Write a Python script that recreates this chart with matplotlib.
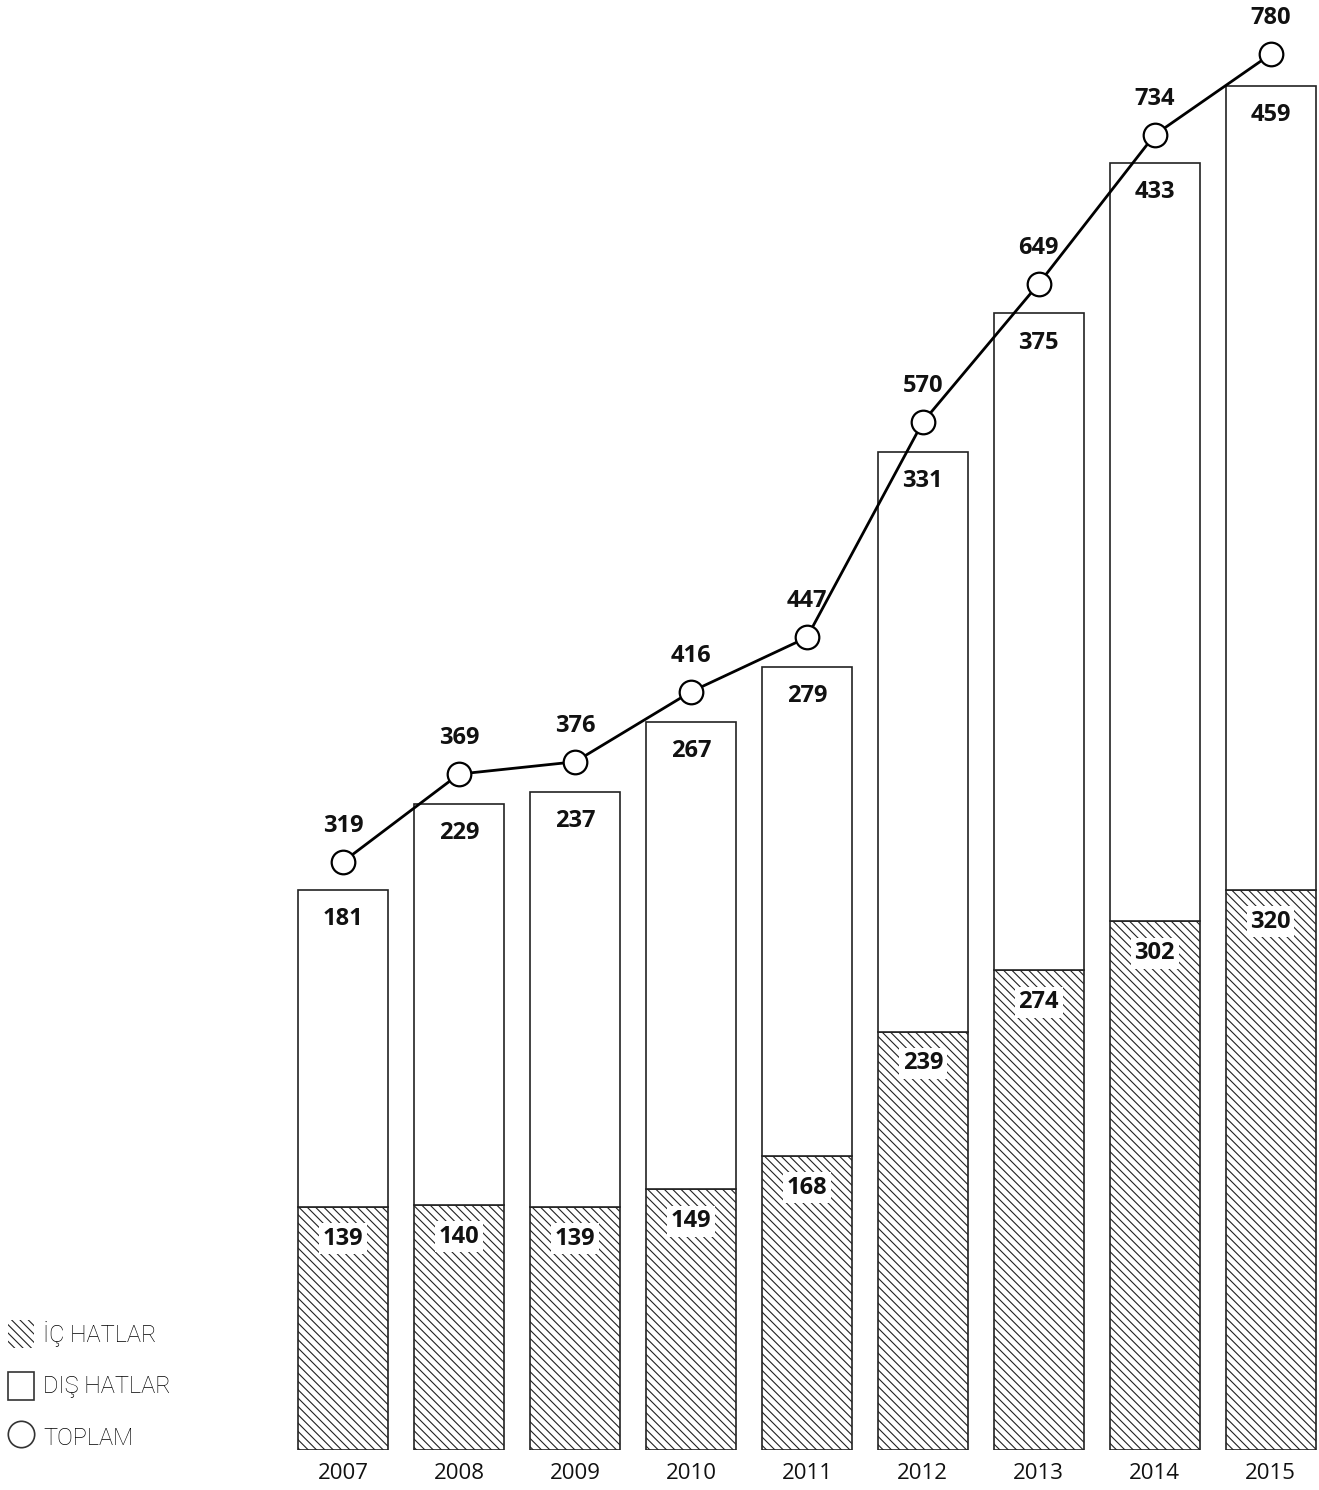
import matplotlib
matplotlib.use("Agg")
import matplotlib.pyplot as plt
from matplotlib.patches import Patch
from matplotlib.lines import Line2D

years = ["2007", "2008", "2009", "2010", "2011", "2012", "2013", "2014", "2015"]
ic_hatlar = [139, 140, 139, 149, 168, 239, 274, 302, 320]
dis_hatlar = [181, 229, 237, 267, 279, 331, 375, 433, 459]
toplam = [319, 369, 376, 416, 447, 570, 649, 734, 780]

plt.rcParams['hatch.linewidth'] = 0.8
plt.rcParams['hatch.color'] = '#222222'

fig = plt.figure(figsize=(13.19, 14.90), dpi=100)
ax = fig.add_axes([0.225, 0.0268, 0.7735, 0.9732])
x = list(range(len(years)))
w = 0.776
edge = '#222222'
ax.bar(x, ic_hatlar, w, color='white', edgecolor=edge, hatch='\\\\\\\\', linewidth=1.2, zorder=2)
ax.bar(x, dis_hatlar, w, bottom=ic_hatlar, color='white', edgecolor=edge, linewidth=1.2, zorder=2)
ax.set_xlim(-0.4, 8.4)
ax.set_ylim(0, 828)
for s in ax.spines.values():
    s.set_visible(False)
ax.set_yticks([])
ax.set_xticks(x)
ax.set_xticklabels(years, fontsize=16, family='Open Sans', color='#111111')
ax.tick_params(axis='x', length=0, pad=9)

bold = dict(fontsize=17, fontweight='bold', family='Open Sans', color='#111111',
            ha='center', va='center')
for i in x:
    ax.annotate(str(ic_hatlar[i]), (i, ic_hatlar[i]), xytext=(0, -23),
                textcoords='offset points', zorder=4,
                bbox=dict(boxstyle='square,pad=0.15', fc='white', ec='none'), **bold)
    ax.annotate(str(dis_hatlar[i]), (i, ic_hatlar[i] + dis_hatlar[i]), xytext=(0, -21),
                textcoords='offset points', zorder=4, **bold)

ax2 = ax.twinx()
ax2.set_ylim(-17, 811)
ax2.set_axis_off()
ax2.plot(x, toplam, color='black', lw=2, marker='o', ms=17, mfc='white', mec='black',
         mew=1.6, zorder=5)
for i in x:
    ax2.annotate(str(toplam[i]), (i, toplam[i]), xytext=(0, 26),
                 textcoords='offset points', **bold)

handles = [Patch(facecolor='white', edgecolor='#222222', linewidth=0, hatch='\\\\\\\\'),
           Patch(facecolor='white', edgecolor='#333333', linewidth=1.2),
           Line2D([], [], marker='o', ls='none', ms=19, mfc='white', mec='#333333', mew=1.2)]
labels = ['İÇ HATLAR', 'DIŞ HATLAR', 'TOPLAM']
fig.legend(handles, labels, loc='lower left', bbox_to_anchor=(0.006, 0.026),
           borderaxespad=0, borderpad=0,
           frameon=False, handlelength=1.1, handleheight=1.45, handletextpad=0.4,
           labelspacing=1.0, prop={'family': 'Roboto', 'weight': 'light', 'size': 17},
           labelcolor='#000000')

fig.savefig('out.png', dpi=100)
